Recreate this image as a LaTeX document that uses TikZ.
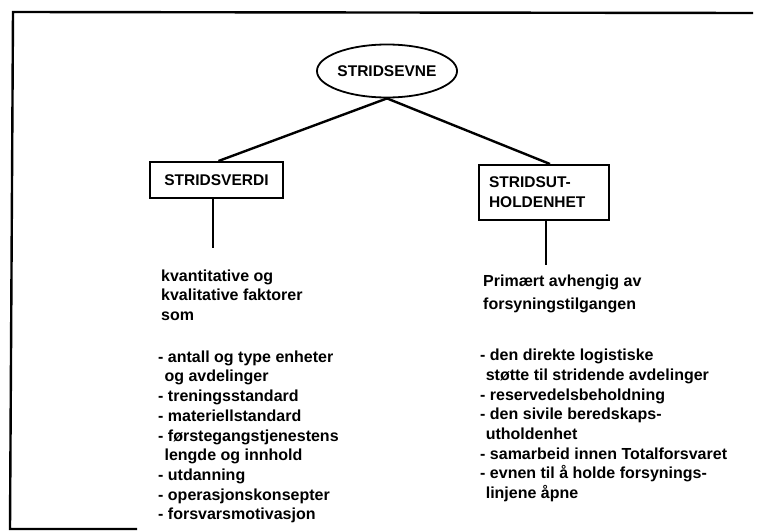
\documentclass[tikz,border=0pt]{standalone}
\usepackage{fontspec}
\setmainfont{Liberation Sans}
\usetikzlibrary{shapes}

\begin{document}
\begin{tikzpicture}[x=1pt,y=-1pt,
                    main node/.style={ellipse,draw,line width=1.8pt,minimum width=132pt,minimum height=53pt,
                                      inner sep=0pt,font=\fontsize{15.5}{18}\selectfont\bfseries},
                    box node/.style={rectangle,draw,line width=2pt,font=\fontsize{15.5}{20}\selectfont\bfseries},
                    list node/.style={align=left,inner sep=0pt,anchor=north west,
                                      font=\fontsize{16}{19.7}\selectfont\bfseries},
                    link/.style={line width=2.4pt}]

  \useasboundingbox (0,0) rectangle (757,530);

  % open frame round the chart
  \draw[line width=2.4pt] (137,529) -- (10,529) -- (13,12) -- (753,13);

  \node[main node] (sevne) at (387,71) {STRIDSEVNE};
  \node[box node,minimum width=133pt,minimum height=36pt] (verdi) at (216.5,180) {STRIDSVERDI};
  \node[box node,minimum width=130pt,minimum height=55pt,text width=110pt,align=left,
        inner xsep=10pt] (holde) at (544,192.5) {STRIDSUT-\\HOLDENHET};

  \coordinate (verdiend) at (213,248);
  \coordinate (holdeend) at (546,265);

  \draw[link] (sevne.south) -- ([xshift=2pt]verdi.north);
  \draw[link] (sevne.south) -- ([xshift=6pt]holde.north);
  \draw[link] ([xshift=-3.5pt]verdi.south) -- (verdiend);
  \draw[link] ([xshift=2pt]holde.south) -- (holdeend);

  \node[list node] (faktorer) at (158,269.3) {%
    \hspace*{3pt}kvantitative og\\
    \hspace*{3pt}kvalitative faktorer\\
    \hspace*{3pt}som\\[22pt]
    - antall og type enheter\\
    \hspace*{0.4em}og avdelinger\\
    - treningsstandard\\
    - materiellstandard\\
    - førstegangstjenestens\\
    \hspace*{0.4em}lengde og innhold\\
    - utdanning\\
    - operasjonskonsepter\\
    - forsvarsmotivasjon};

  \node[list node] (forsyning) at (480,274.5) {%
    \hspace*{3pt}Primært avhengig av\\[3.6pt]
    \hspace*{3pt}forsyningstilgangen\\[31.3pt]
    - den direkte logistiske\\
    \hspace*{0.35em}støtte til stridende avdelinger\\
    - reservedelsbeholdning\\
    - den sivile beredskaps-\\
    \hspace*{0.35em}utholdenhet\\
    - samarbeid innen Totalforsvaret\\
    - evnen til å holde forsynings-\\
    \hspace*{0.35em}linjene åpne};
\end{tikzpicture}
\end{document}
